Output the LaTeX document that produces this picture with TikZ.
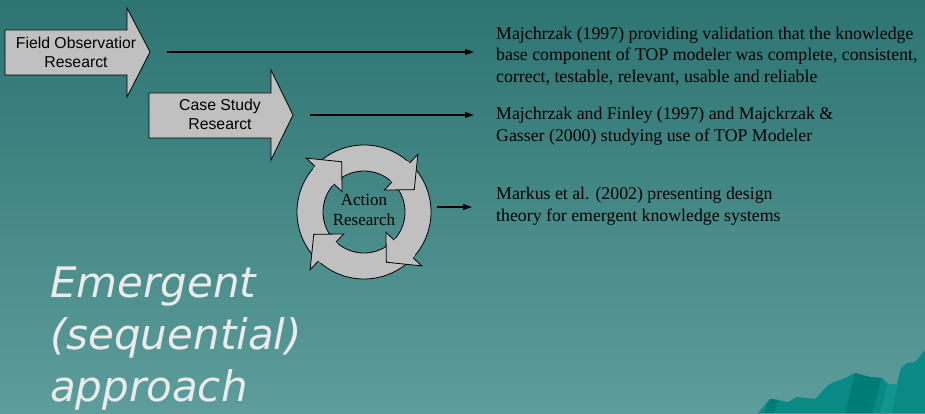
\documentclass[tikz,border=0pt]{standalone}
\usepackage{fontspec}
\setmainfont{Liberation Serif}
\newfontfamily\arialf{Liberation Sans}
\newfontfamily\dejavuf{DejaVu Sans}
\usetikzlibrary{arrows.meta,calc}
\definecolor{bgtop}{HTML}{2D7472}
\definecolor{bgbot}{HTML}{5D9D9B}
\definecolor{shapegray}{HTML}{C0C0C0}
\definecolor{mtn}{HTML}{0A8A84}
\definecolor{mtndark}{HTML}{007C77}
\definecolor{mtnlight}{HTML}{12958F}
\definecolor{titlegray}{HTML}{EBEBEB}
\tikzset{
  blockarrow/.style={fill=shapegray,draw=black,line width=0.8pt,line join=miter},
  outline/.style={draw=black,line width=0.8pt,line join=miter},
  boxtext/.style={font=\arialf\fontsize{15.8}{19}\selectfont,align=center,inner sep=0pt},
  reftext/.style={font=\fontsize{17.8}{21.5}\selectfont,align=left,anchor=west,inner sep=0pt},
  conn/.style={draw=black,line width=1.1pt,-{Triangle[length=9pt,width=6pt]}},
}
\begin{document}
\begin{tikzpicture}[x=1pt,y=1pt]
\useasboundingbox (0,0) rectangle (925,413);
\shade[top color=bgtop,bottom color=bgbot] (0,0) rectangle (925,413);
% mountain
\fill[mtn] (758,0) -- (770,14) -- (778,13) -- (788,11) -- (797,16) -- (815,14) -- (828,28) -- (832,30) -- (845,35) -- (855,40) -- (870,36) -- (882,35) -- (888,29) -- (897,29) -- (901,45) -- (907,50) -- (915,51) -- (925,63) -- (925,0) -- cycle;
\fill[mtndark] (855,40) -- (870,36) -- (882,35) -- (872,0) -- (845,0) -- cycle;
\fill[mtndark] (770,14) -- (778,13) -- (774,0) -- (764,0) -- cycle;
\fill[mtnlight] (888,29) -- (897,29) -- (901,45) -- (892,0) -- (880,0) -- cycle;
% block arrows
\draw[blockarrow] (5,383) -- (127,383) -- (127,405) -- (150,361) -- (127,316) -- (127,338) -- (5,338) -- cycle;
\draw[blockarrow] (149,320) -- (271,320) -- (271,343) -- (293,298) -- (271,253) -- (271,275) -- (149,275) -- cycle;
\node[boxtext] (fo) at (76,361) {Field Observatior\\Researct};
\node[boxtext] (cs) at (220,298.5) {Case Study\\Researct};
% cycle: bands first
\coordinate (C) at (364,201);
\foreach \b in {137,47,-43,-133}{
  \fill[shapegray] ($(C)+(\b+85:67pt)$) arc[start angle=\b+85,end angle=\b,radius=67pt]
    -- ($(C)+(\b:41pt)$) arc[start angle=\b,end angle=\b+85,radius=41pt] -- cycle;
  \draw[outline] ($(C)+(\b+85:67pt)$) arc[start angle=\b+85,end angle=\b,radius=67pt];
  \draw[outline] ($(C)+(\b+85:41pt)$) arc[start angle=\b+85,end angle=\b,radius=41pt];
}
% then heads on top
\foreach \b in {137,47,-43,-133}{
  \fill[shapegray] ($(C)+(\b+3:67pt)$) -- ($(C)+(\b:67pt)$) -- ($(C)+(\b:79pt)$) -- ($(C)+(\b-23:55pt)$)
    -- ($(C)+(\b:30pt)$) -- ($(C)+(\b:41pt)$) -- ($(C)+(\b+3:41pt)$) -- cycle;
  \draw[outline] ($(C)+(\b:67pt)$) -- ($(C)+(\b:79pt)$) -- ($(C)+(\b-23:55pt)$)
    -- ($(C)+(\b:30pt)$) -- ($(C)+(\b:41pt)$);
}
\node[font=\fontsize{17}{20.5}\selectfont,align=center,inner sep=0pt] (ar) at (364,203) {Action\\Research};
% reference texts
\node[reftext] (t1) at (496,357) {Majchrzak (1997) providing validation that the knowledge\\base component of TOP modeler was complete, consistent,\\correct, testable, relevant, usable and reliable};
\node[reftext] (t2) at (496,287) {Majchrzak and Finley (1997) and Majckrzak \&\\Gasser (2000) studying use of TOP Modeler};
\node[reftext] (t3) at (496,207) {Markus et al. (2002) presenting design\\theory for emergent knowledge systems};
% connectors
\coordinate (s1) at (167,361);
\coordinate (e1) at (474,361);
\coordinate (s2) at (310,298);
\coordinate (e2) at (474,298);
\coordinate (s3) at (437,206);
\coordinate (e3) at (472,206);
\draw[conn] (s1) -- (e1);
\draw[conn] (s2) -- (e2);
\draw[conn] (s3) -- (e3);
% title
\node[font=\dejavuf\itshape\fontsize{42}{52}\selectfont,text=titlegray,align=left,anchor=north west,inner sep=0pt] (title) at (50,146) {Emergent\\(sequential)\\approach};
\end{tikzpicture}
\end{document}
